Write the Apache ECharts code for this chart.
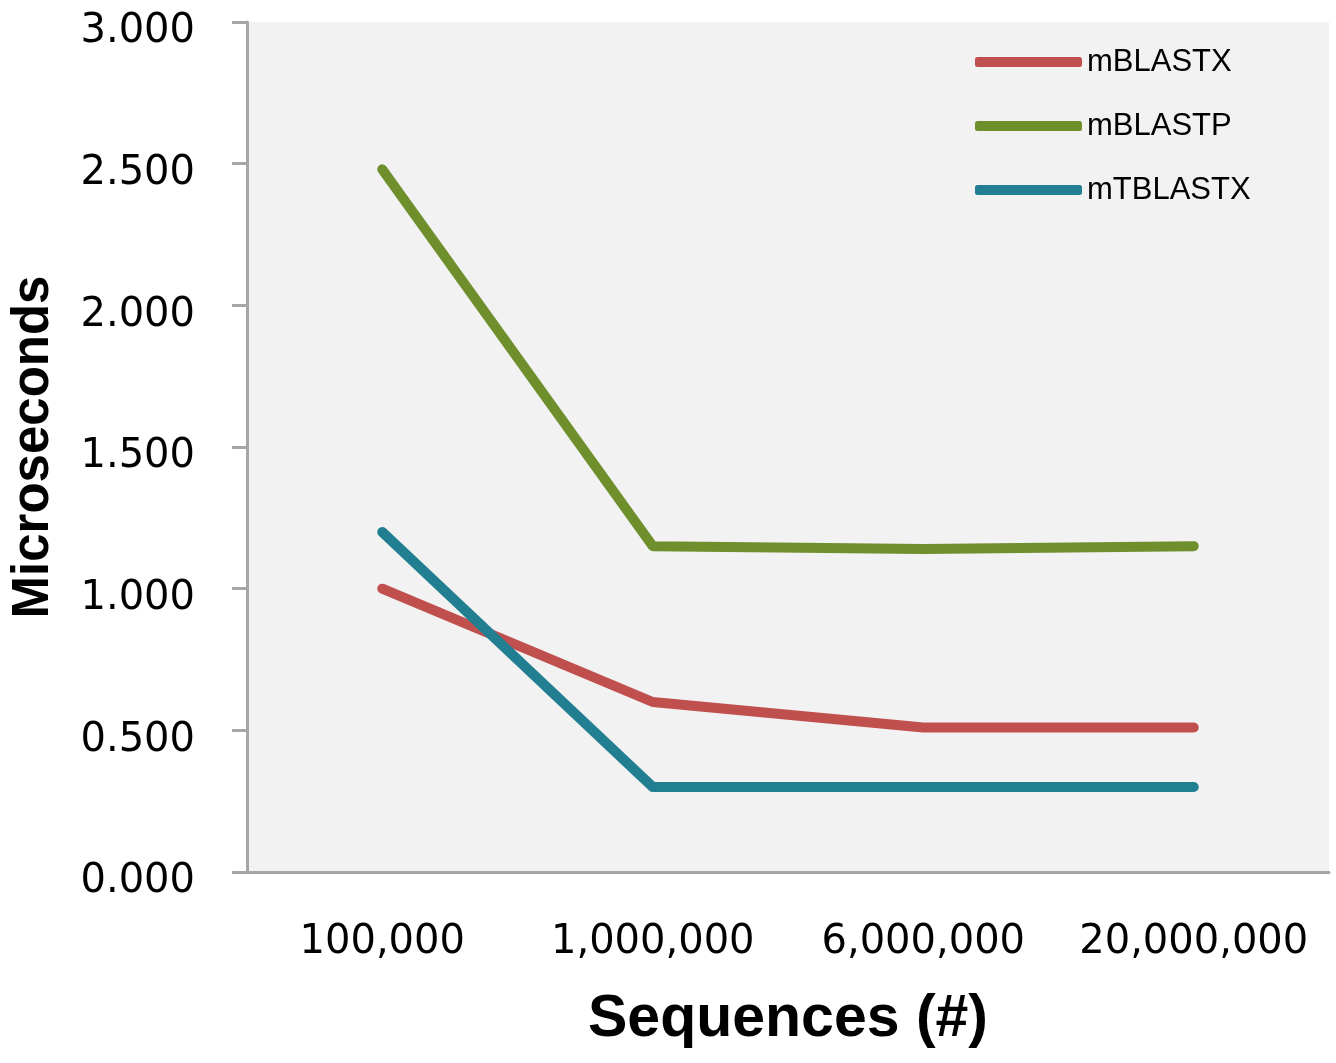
<!DOCTYPE html>
<html>
<head>
<meta charset="utf-8">
<script src="https://cdn.jsdelivr.net/npm/echarts@6/dist/echarts.min.js"></script>
<style>
html,body{margin:0;padding:0;background:#fff;}
#chart{width:1336px;height:1063px;}
</style>
</head>
<body>
<div id="chart"></div>
<script>
const categories = ['100,000', '1,000,000', '6,000,000', '20,000,000'];
const mBLASTX = [1.00, 0.60, 0.51, 0.51];
const mBLASTP = [2.48, 1.15, 1.14, 1.15];
const mTBLASTX = [1.20, 0.30, 0.30, 0.30];
const seriesNames = ['mBLASTX', 'mBLASTP', 'mTBLASTX'];
const seriesColors = ['#c0504d', '#6f8f2d', '#217f91'];

const chart = echarts.init(document.getElementById('chart'));
const axisStyle = { color: '#a6a6a6', width: 3 };
function lineSeries(i, data) {
  return {
    name: seriesNames[i], type: 'line', data: data, symbol: 'none',
    lineStyle: { width: 10, color: seriesColors[i], cap: 'round', join: 'round' },
    itemStyle: { color: seriesColors[i] }
  };
}
chart.setOption({
  animation: false,
  backgroundColor: '#ffffff',
  grid: {
    left: 245, right: 7, top: 22, bottom: 191,
    show: true, backgroundColor: '#f2f2f2', borderWidth: 0
  },
  legend: {
    orient: 'vertical',
    left: 975, top: 46,
    padding: 0,
    itemWidth: 107, itemHeight: 10,
    itemGap: 32,
    icon: 'roundRect',
    data: seriesNames,
    textStyle: { fontFamily: 'Liberation Sans', fontSize: 31, color: '#000', lineHeight: 32 }
  },
  xAxis: {
    type: 'category',
    data: categories,
    boundaryGap: true,
    axisLine: { lineStyle: axisStyle },
    axisTick: { show: false },
    axisLabel: { interval: 0, fontFamily: 'DejaVu Sans', fontSize: 40, color: '#000', margin: 51 },
    name: 'Sequences (#)',
    nameLocation: 'middle',
    nameGap: 118,
    nameTextStyle: { fontFamily: 'Liberation Sans', fontWeight: 'bold', fontSize: 59, color: '#000' }
  },
  yAxis: {
    type: 'value',
    min: 0, max: 3, interval: 0.5,
    splitLine: { show: false },
    axisLine: { show: true, lineStyle: axisStyle },
    axisTick: { show: true, length: 15, lineStyle: axisStyle },
    axisLabel: {
      fontFamily: 'DejaVu Sans', fontSize: 40, color: '#000', margin: 52,
      formatter: v => '{a|' + v.toFixed(3) + '}',
      rich: {
        a: { fontFamily: 'DejaVu Sans', fontSize: 40, color: '#000', padding: [20, 0, 0, 0] }
      }
    },
    name: 'Microseconds',
    nameLocation: 'middle',
    nameGap: 188,
    nameTextStyle: { fontFamily: 'Liberation Sans', fontWeight: 'bold', fontSize: 51, color: '#000' }
  },
  series: [
    lineSeries(0, mBLASTX),
    lineSeries(1, mBLASTP),
    lineSeries(2, mTBLASTX)
  ]
});
</script>
</body>
</html>
